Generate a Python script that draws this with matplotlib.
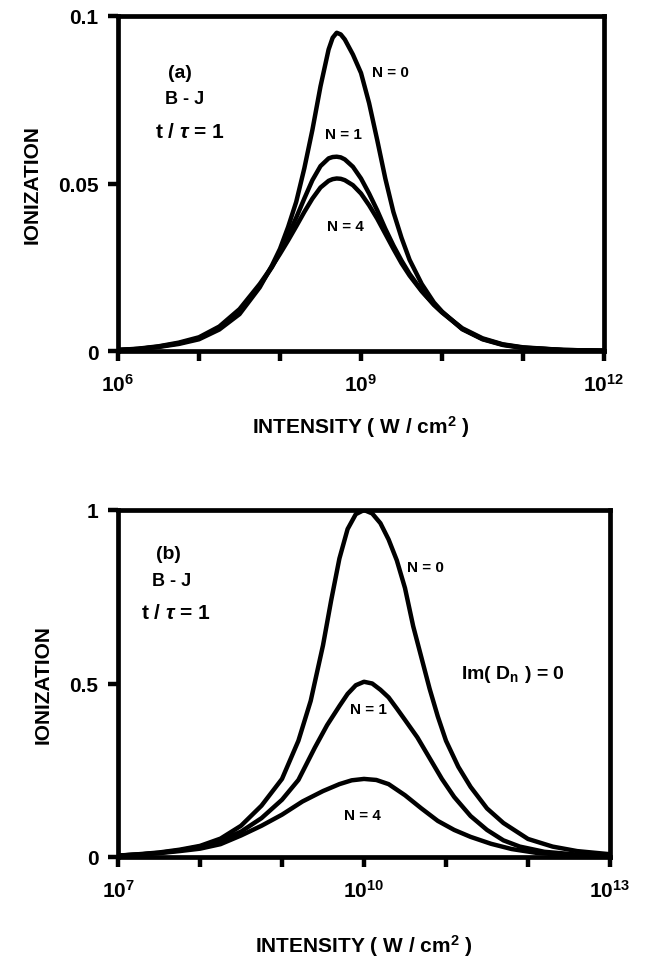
import matplotlib
matplotlib.use("Agg")
import matplotlib.pyplot as plt

plt.rcParams['font.family'] = ['Liberation Sans', 'DejaVu Sans']
plt.rcParams['font.weight'] = 'bold'
plt.rcParams['mathtext.fontset'] = 'custom'
plt.rcParams['mathtext.rm'] = 'Liberation Sans:bold'
plt.rcParams['mathtext.bf'] = 'Liberation Sans:bold'
plt.rcParams['mathtext.it'] = 'Liberation Sans:bold:italic'
plt.rcParams['mathtext.default'] = 'bf'

# ---- Panel (a): log10 intensity and ionization ----
logI_a = [6.0, 6.25, 6.5, 6.75, 7.0, 7.25, 7.5, 7.75, 7.9, 8.0, 8.1, 8.2, 8.3, 8.4,
          8.5, 8.6, 8.65, 8.7, 8.75, 8.8, 8.9, 9.0, 9.1, 9.2, 9.3, 9.4, 9.5, 9.6,
          9.75, 9.9, 10.0, 10.25, 10.5, 10.75, 11.0, 11.5, 12.0]
ion_a_N0 = [0.0003, 0.0006, 0.0012, 0.0021, 0.0035, 0.0064, 0.0110, 0.0190, 0.0255,
            0.0305, 0.0370, 0.0445, 0.0545, 0.0660, 0.0790, 0.0900, 0.0935, 0.0950,
            0.0945, 0.0930, 0.0885, 0.0830, 0.0740, 0.0630, 0.0515, 0.0415, 0.0338,
            0.0272, 0.0200, 0.0145, 0.0118, 0.0065, 0.0035, 0.0018, 0.0009, 0.0003,
            0.0001]
ion_a_N1 = [0.0003, 0.0006, 0.0013, 0.0023, 0.0038, 0.0068, 0.0118, 0.0195, 0.0250,
            0.0295, 0.0345, 0.0398, 0.0455, 0.0510, 0.0552, 0.0575, 0.0579, 0.0580,
            0.0578, 0.0572, 0.0550, 0.0515, 0.0470, 0.0420, 0.0365, 0.0315, 0.0270,
            0.0230, 0.0180, 0.0138, 0.0115, 0.0066, 0.0036, 0.0019, 0.0010, 0.0003,
            0.0001]
ion_a_N4 = [0.0003, 0.0007, 0.0014, 0.0025, 0.0041, 0.0073, 0.0125, 0.0200, 0.0252,
            0.0290, 0.0330, 0.0372, 0.0415, 0.0455, 0.0488, 0.0508, 0.0513, 0.0515,
            0.0514, 0.0510, 0.0495, 0.0470, 0.0435, 0.0395, 0.0350, 0.0305, 0.0262,
            0.0225, 0.0178, 0.0138, 0.0116, 0.0068, 0.0038, 0.0020, 0.0011, 0.0003,
            0.0001]

# ---- Panel (b) ----
logI_b0 = [7.0, 7.25, 7.5, 7.75, 8.0, 8.25, 8.5, 8.75, 9.0, 9.2, 9.35, 9.5, 9.6, 9.7,
           9.8, 9.9, 10.0, 10.1, 10.2, 10.3, 10.4, 10.5, 10.6, 10.7, 10.8, 10.9, 11.0,
           11.15, 11.3, 11.5, 11.7, 12.0, 12.3, 12.6, 13.0]
ion_b_N0 = [0.004, 0.008, 0.013, 0.021, 0.032, 0.053, 0.090, 0.148, 0.225, 0.335,
            0.450, 0.610, 0.740, 0.860, 0.945, 0.988, 1.000, 0.990, 0.962, 0.915,
            0.855, 0.775, 0.665, 0.575, 0.485, 0.405, 0.335, 0.260, 0.202, 0.140,
            0.098, 0.052, 0.030, 0.017, 0.008]
logI_b1 = [7.0, 7.25, 7.5, 7.75, 8.0, 8.25, 8.5, 8.75, 9.0, 9.2, 9.4, 9.55, 9.7, 9.8,
           9.9, 10.0, 10.1, 10.2, 10.3, 10.4, 10.5, 10.65, 10.8, 10.95, 11.1, 11.3,
           11.5, 11.7, 11.9, 12.2, 12.6, 13.0]
ion_b_N1 = [0.004, 0.007, 0.012, 0.019, 0.030, 0.048, 0.073, 0.112, 0.165, 0.222,
            0.315, 0.380, 0.435, 0.470, 0.495, 0.505, 0.500, 0.482, 0.460, 0.428,
            0.395, 0.345, 0.285, 0.225, 0.173, 0.118, 0.078, 0.048, 0.030, 0.015,
            0.007, 0.003]
logI_b4 = [7.0, 7.25, 7.5, 7.75, 8.0, 8.25, 8.5, 8.75, 9.0, 9.25, 9.5, 9.7, 9.85,
           10.0, 10.15, 10.3, 10.5, 10.7, 10.9, 11.1, 11.3, 11.55, 11.8, 12.1, 12.5,
           13.0]
ion_b_N4 = [0.004, 0.007, 0.011, 0.017, 0.024, 0.037, 0.062, 0.090, 0.122, 0.160,
            0.190, 0.210, 0.221, 0.225, 0.222, 0.210, 0.178, 0.140, 0.104, 0.078,
            0.058, 0.038, 0.023, 0.012, 0.005, 0.002]

W, H = 655, 962
fig = plt.figure(figsize=(W / 100, H / 100), dpi=100)


def px_axes(l, t, r, b):
    return fig.add_axes([l / W, 1 - b / H, (r - l) / W, (b - t) / H])


def style(ax, xmin, xmax, ymax, yticks, ylabels, xlabels, xpad):
    ax.set_xscale('log')
    ax.set_xlim(10.0 ** xmin, 10.0 ** xmax)
    ax.set_ylim(0, ymax)
    for s in ax.spines.values():
        s.set_linewidth(3.4)
    xt = [10.0 ** k for k in range(xmin, xmax + 1)]
    ax.set_xticks(xt)
    ax.set_xticklabels(xlabels)
    ax.xaxis.set_minor_locator(matplotlib.ticker.NullLocator())
    ax.set_yticks(yticks)
    ax.set_yticklabels(ylabels)
    ax.tick_params(axis='both', direction='out', length=7, width=3.2, labelsize=15,
                   pad=7)
    ax.tick_params(axis='x', pad=9)
    ax.set_ylabel('IONIZATION', fontsize=15, fontweight='bold', labelpad=12)
    ax.set_xlabel(r'INTENSITY ( W / cm$^2$ )', fontsize=15, fontweight='bold',
                  labelpad=xpad)


def lab(k):
    return r'$10^{%d}$' % k


LW = 3.2
# Panel (a)
ax1 = px_axes(118, 17, 604, 352)
xa = [10.0 ** v for v in logI_a]
for ys in (ion_a_N0, ion_a_N1, ion_a_N4):
    ax1.plot(xa, ys, color='black', lw=LW, solid_joinstyle='round',
             solid_capstyle='round')
style(ax1, 6, 12, 0.1, [0, 0.05, 0.1], ['0', '0.05', '0.1'],
      [lab(6), '', '', lab(9), '', '', lab(12)], 13)

# Panel (b)
ax2 = px_axes(118, 511, 610, 858)
for lx, ys in ((logI_b0, ion_b_N0), (logI_b1, ion_b_N1), (logI_b4, ion_b_N4)):
    ax2.plot([10.0 ** v for v in lx], ys, color='black', lw=LW,
             solid_joinstyle='round', solid_capstyle='round')
style(ax2, 7, 13, 1.0, [0, 0.5, 1.0], ['0', '0.5', '1'],
      [lab(7), '', '', lab(10), '', '', lab(13)], 22)


def ftext(x, y, s, size=12):
    fig.text(x / W, 1 - y / H, s, fontsize=size, fontweight='bold',
             ha='center', va='center')


TAU = r't / $\mathit{\tau}$ = 1'
ftext(180, 73, '(a)', 14)
ftext(185, 99, 'B - J', 13)
ftext(190, 132, TAU, 15)
ftext(390, 73, 'N = 0', 11)
ftext(343, 135, 'N = 1', 11)
ftext(345, 227, 'N = 4', 11)

ftext(168, 555, '(b)', 14)
ftext(172, 581, 'B - J', 13)
ftext(176, 614, TAU, 15)
ftext(425, 568, 'N = 0', 11)
ftext(368, 710, 'N = 1', 11)
ftext(362, 816, 'N = 4', 11)
ftext(513, 675, r'Im( D$_{\mathbf{n}}$ ) = 0', 14)

fig.savefig('out.png', dpi=100)
